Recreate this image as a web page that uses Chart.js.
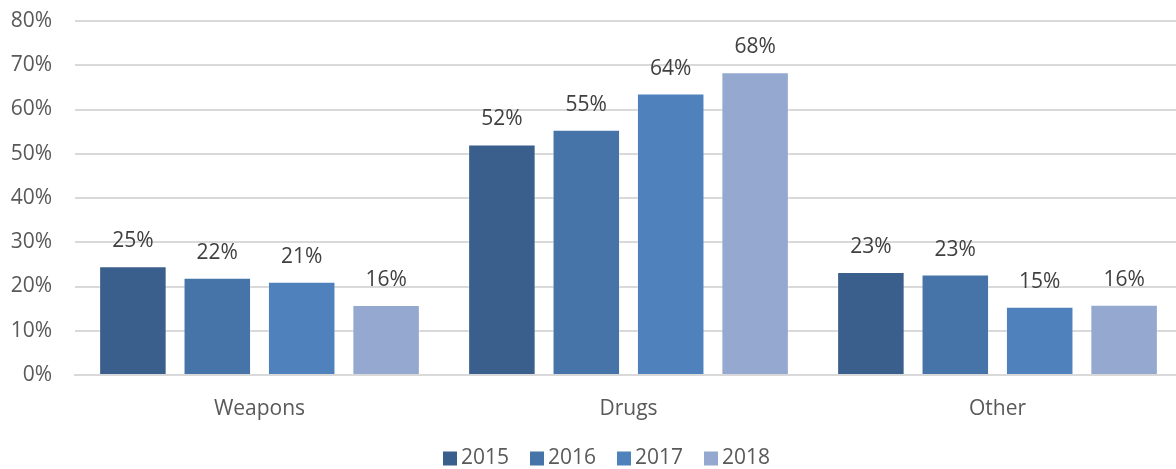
<!DOCTYPE html>
<html>
<head>
<meta charset="utf-8">
<script src="https://cdn.jsdelivr.net/npm/chart.js@4/dist/chart.umd.min.js"></script>
<style>
  html, body { margin: 0; padding: 0; background: #fff; overflow: hidden; }
  #wrap { width: 1182px; height: 469px; position: relative; }
</style>
</head>
<body>
<div id="wrap"><canvas id="chart"></canvas></div>
<script>
// Share of cases by type, per year (percent)
const categories = ['Weapons', 'Drugs', 'Other'];
const years = ['2015', '2016', '2017', '2018'];
const values2015 = [24.6, 52.1, 23.3];
const values2016 = [22.0, 55.4, 22.7];
const values2017 = [21.1, 63.6, 15.4];
const values2018 = [15.8, 68.4, 15.9];
const yTicks = [0, 10, 20, 30, 40, 50, 60, 70, 80];

const series = [values2015, values2016, values2017, values2018];
const colors = ['#3B5F8C', '#4674A8', '#4F81BD', '#95A9D0'];
const FONT = '"Open Sans", "Noto Sans", sans-serif';
const FONT_SIZE = 21;

// Percent labels drawn above each bar
const barLabels = {
  id: 'barLabels',
  afterDatasetsDraw(chart) {
    const ctx = chart.ctx;
    ctx.save();
    ctx.font = FONT_SIZE + 'px ' + FONT;
    ctx.fillStyle = '#404040';
    ctx.textAlign = 'center';
    ctx.textBaseline = 'middle';
    chart.data.datasets.forEach((ds, i) => {
      chart.getDatasetMeta(i).data.forEach((bar, j) => {
        ctx.fillText(Math.round(ds.data[j]) + '%', bar.x, bar.y - 25);
      });
    });
    ctx.restore();
  }
};

// Year legend along the bottom edge
const yearLegend = {
  id: 'yearLegend',
  afterDraw(chart) {
    const ctx = chart.ctx;
    const pitch = 87, box = 14, startX = 443, cy = 458.5;
    ctx.save();
    ctx.font = FONT_SIZE + 'px ' + FONT;
    ctx.textAlign = 'left';
    ctx.textBaseline = 'middle';
    chart.data.datasets.forEach((ds, i) => {
      const x = startX + i * pitch;
      ctx.fillStyle = ds.backgroundColor;
      ctx.fillRect(x, cy - box / 2, box, box);
      ctx.fillStyle = '#595959';
      ctx.fillText(ds.label, x + box + 4, cy);
    });
    ctx.restore();
  }
};

new Chart(document.getElementById('chart'), {
  type: 'bar',
  data: {
    labels: categories,
    datasets: years.map((y, i) => ({
      label: y,
      data: series[i],
      backgroundColor: colors[i],
      borderColor: 'rgba(255,255,255,0.35)',
      borderWidth: 1,
      barPercentage: 0.8,
      categoryPercentage: 0.915
    }))
  },
  options: {
    responsive: true,
    maintainAspectRatio: false,
    animation: false,
    layout: { padding: { top: 21, left: 0, right: 0, bottom: 44 } },
    plugins: {
      legend: { display: false },
      tooltip: { enabled: false }
    },
    scales: {
      x: {
        grid: { display: false, drawTicks: false },
        border: { display: true, color: '#D9D9D9', width: 2 },
        ticks: { font: { family: FONT, size: FONT_SIZE }, color: '#595959', padding: 21 },
        afterFit(scale) { scale.height = 50; scale.paddingLeft = 0; scale.paddingRight = 0; }
      },
      y: {
        min: 0,
        max: 80,
        afterBuildTicks(scale) { scale.ticks = yTicks.map(v => ({ value: v })); },
        grid: { color: '#D9D9D9', lineWidth: 2, drawTicks: false },
        border: { display: false },
        ticks: {
          font: { family: FONT, size: FONT_SIZE },
          color: '#595959',
          padding: 23,
          callback: v => v + '%'
        },
        afterFit(scale) { scale.width = 75; scale.paddingTop = 0; scale.paddingBottom = 0; }
      }
    }
  },
  plugins: [barLabels, yearLegend]
});
</script>
</body>
</html>
